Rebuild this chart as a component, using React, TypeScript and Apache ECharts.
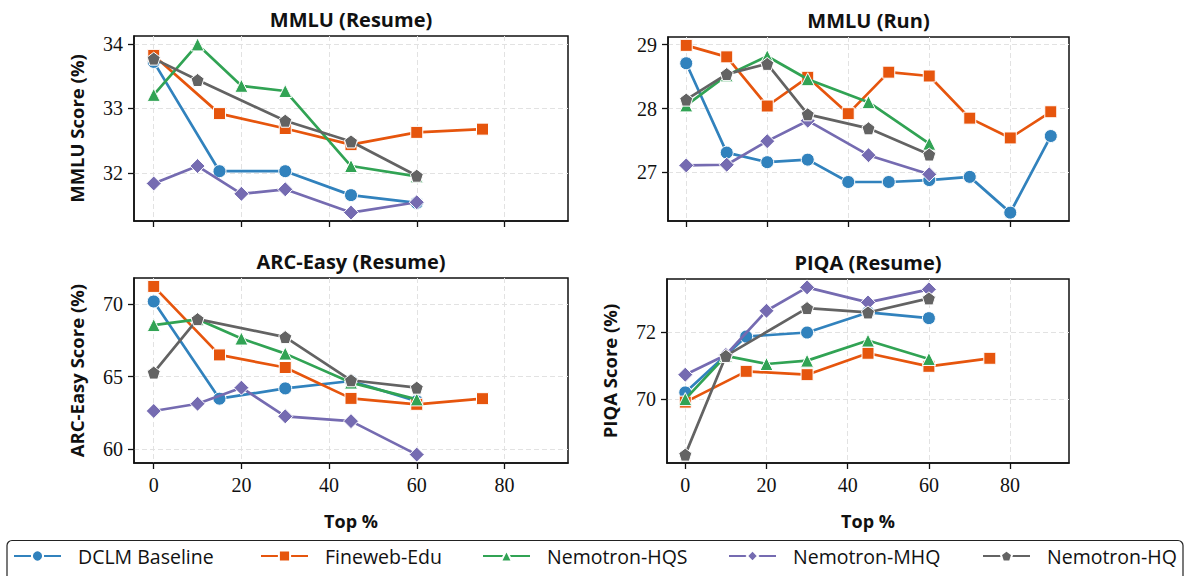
import React, { useEffect, useRef } from "react";
import * as echarts from "echarts";

// ---------- data ----------
const seriesNames = ["DCLM Baseline", "Fineweb-Edu", "Nemotron-HQS", "Nemotron-MHQ", "Nemotron-HQ"];
const colors = ["#3182bd", "#e6550d", "#31a354", "#756bb1", "#636363"];

const xTickValues = [0, 20, 40, 60, 80];

const resumeDclmX = [0, 15, 30, 45, 60];
const resumeFinewebX = [0, 15, 30, 45, 60, 75];
const resumeHqsX = [0, 10, 20, 30, 45, 60];
const resumeMhqX = [0, 10, 20, 30, 45, 60];
const resumeHqX = [0, 10, 30, 45, 60];

const runDclmX = [0, 10, 20, 30, 40, 50, 60, 70, 80, 90];
const runFinewebX = [0, 10, 20, 30, 40, 50, 60, 70, 80, 90];
const runHqsX = [0, 10, 20, 30, 45, 60];
const runMhqX = [0, 10, 20, 30, 45, 60];
const runHqX = [0, 10, 20, 30, 45, 60];

// MMLU (Resume)
const mmluResumeDclm = [33.72, 32.03, 32.03, 31.66, 31.54];
const mmluResumeFineweb = [33.82, 32.92, 32.69, 32.44, 32.63, 32.68];
const mmluResumeHqs = [33.21, 33.99, 33.35, 33.27, 32.11, 31.95];
const mmluResumeMhq = [31.84, 32.11, 31.68, 31.75, 31.39, 31.55];
const mmluResumeHq = [33.77, 33.44, 32.81, 32.49, 31.96];
const mmluResumeTicks = [32, 33, 34];

// MMLU (Run)
const mmluRunDclm = [28.71, 27.31, 27.16, 27.2, 26.85, 26.85, 26.88, 26.93, 26.37, 27.57];
const mmluRunFineweb = [28.99, 28.81, 28.04, 28.49, 27.92, 28.57, 28.51, 27.85, 27.54, 27.95];
const mmluRunHqs = [28.05, 28.52, 28.82, 28.46, 28.1, 27.45];
const mmluRunMhq = [27.11, 27.12, 27.49, 27.81, 27.27, 26.97];
const mmluRunHq = [28.14, 28.54, 28.7, 27.91, 27.69, 27.28];
const mmluRunTicks = [27, 28, 29];

// ARC-Easy (Resume)
const arcDclm = [70.18, 63.47, 64.18, 64.69, 63.3];
const arcFineweb = [71.22, 66.49, 65.62, 63.49, 63.08, 63.47];
const arcHqs = [68.55, 68.95, 67.62, 66.58, 64.58, 63.42];
const arcMhq = [62.62, 63.12, 64.23, 62.25, 61.92, 59.61];
const arcHq = [65.27, 68.96, 67.72, 64.74, 64.23];
const arcTicks = [60, 65, 70];

// PIQA (Resume)
const piqaDclm = [70.19, 71.86, 71.98, 72.58, 72.41];
const piqaFineweb = [69.9, 70.82, 70.72, 71.36, 70.97, 71.21];
const piqaHqs = [69.99, 71.28, 71.04, 71.14, 71.74, 71.19];
const piqaMhq = [70.72, 71.31, 72.63, 73.33, 72.88, 73.27];
const piqaHq = [68.33, 71.28, 72.71, 72.58, 73.0];
const piqaTicks = [70, 72];

// ---------- styling ----------
const pentagon = "path://M0,-1L0.951,-0.309L0.588,0.809L-0.588,0.809L-0.951,-0.309Z";
const symbols = ["circle", "rect", "triangle", "diamond", pentagon];
const symbolSizes = [13, 12, 13, 15, 13];
const legendLefts = [13, 260, 482, 728, 982];

const SANS = "'Open Sans', 'Noto Sans', sans-serif";
const SERIF = "'Liberation Serif', 'DejaVu Serif', serif";

const zip = (xs: number[], ys: number[]) => xs.map((x, i) => [x, ys[i]]);

const panels = [
  {
    title: "MMLU (Resume)",
    yName: "MMLU Score (%)",
    ticks: mmluResumeTicks,
    showXLabels: false,
    grid: { left: 134, top: 36, width: 434, height: 185 },
    xs: [resumeDclmX, resumeFinewebX, resumeHqsX, resumeMhqX, resumeHqX],
    ys: [mmluResumeDclm, mmluResumeFineweb, mmluResumeHqs, mmluResumeMhq, mmluResumeHq],
  },
  {
    title: "MMLU (Run)",
    yName: "",
    ticks: mmluRunTicks,
    showXLabels: false,
    grid: { left: 668, top: 37, width: 401, height: 184 },
    xs: [runDclmX, runFinewebX, runHqsX, runMhqX, runHqX],
    ys: [mmluRunDclm, mmluRunFineweb, mmluRunHqs, mmluRunMhq, mmluRunHq],
  },
  {
    title: "ARC-Easy (Resume)",
    yName: "ARC-Easy Score (%)",
    ticks: arcTicks,
    showXLabels: true,
    grid: { left: 134, top: 278, width: 434, height: 185 },
    xs: [resumeDclmX, resumeFinewebX, resumeHqsX, resumeMhqX, resumeHqX],
    ys: [arcDclm, arcFineweb, arcHqs, arcMhq, arcHq],
  },
  {
    title: "PIQA (Resume)",
    yName: "PIQA Score (%)",
    ticks: piqaTicks,
    showXLabels: true,
    grid: { left: 667, top: 279, width: 402, height: 184 },
    xs: [resumeDclmX, resumeFinewebX, resumeHqsX, resumeMhqX, resumeHqX],
    ys: [piqaDclm, piqaFineweb, piqaHqs, piqaMhq, piqaHq],
  },
];

function buildOption() {
  const grids: any[] = [];
  const xAxes: any[] = [];
  const yAxes: any[] = [];
  const series: any[] = [];
  const graphics: any[] = [];

  panels.forEach((p, pi) => {
    grids.push({
      ...p.grid,
      show: true,
      borderColor: "#111",
      borderWidth: 1.5,
      backgroundColor: "transparent",
      containLabel: false,
    });
    const all = p.ys.flat();
    const lo = Math.min(...all);
    const hi = Math.max(...all);
    const pad = (hi - lo) * 0.05;

    xAxes.push({
      type: "value",
      gridIndex: pi,
      min: -4.5,
      max: 94.5,
      axisLine: { show: true, onZero: false, lineStyle: { color: "#111", width: 1.5 } },
      axisTick: { show: true, length: 6, customValues: xTickValues, lineStyle: { color: "#111", width: 1.3 } },
      axisLabel: {
        show: p.showXLabels,
        customValues: xTickValues,
        fontFamily: SERIF,
        fontSize: 20,
        color: "#111",
        margin: 12,
      },
      splitLine: { show: true, lineStyle: { color: "#e2e2e2", type: [5, 3], width: 1 } },
      name: p.showXLabels ? "Top %" : "",
      nameLocation: "middle",
      nameGap: 49,
      nameTextStyle: { fontFamily: SANS, fontWeight: "bold", fontSize: 18, color: "#111" },
    });
    yAxes.push({
      type: "value",
      gridIndex: pi,
      min: lo - pad,
      max: hi + pad,
      axisLine: { show: true, onZero: false, lineStyle: { color: "#111", width: 1.5 } },
      axisTick: { show: true, length: 6, customValues: p.ticks, lineStyle: { color: "#111", width: 1.3 } },
      axisLabel: {
        customValues: p.ticks,
        fontFamily: SERIF,
        fontSize: 20,
        color: "#111",
        margin: 11,
        formatter: (v: number) => String(Math.round(v)),
      },
      splitLine: { show: true, lineStyle: { color: "#e2e2e2", type: [5, 3], width: 1 } },
      name: p.yName,
      nameLocation: "middle",
      nameGap: 48,
      nameTextStyle: { fontFamily: SANS, fontWeight: "bold", fontSize: 18.5, color: "#111" },
    });

    seriesNames.forEach((name, si) => {
      series.push({
        type: "line",
        name,
        xAxisIndex: pi,
        yAxisIndex: pi,
        data: zip(p.xs[si], p.ys[si]),
        symbol: symbols[si],
        symbolSize: symbolSizes[si],
        showAllSymbol: true,
        lineStyle: { color: colors[si], width: 2.7 },
        itemStyle: { color: colors[si], borderColor: "#fff", borderWidth: 1 },
        z: 2 + si,
        emphasis: { disabled: true },
      });
    });

    const cx = p.grid.left + p.grid.width / 2;
    graphics.push({
      type: "text",
      x: cx,
      y: p.grid.top - 17,
      style: {
        text: p.title,
        font: `bold 20px ${SANS}`,
        fill: "#111",
        align: "center",
        verticalAlign: "middle",
        textAlign: "center",
        textVerticalAlign: "middle",
      },
    });
  });

  graphics.push({
    type: "rect",
    z: 0,
    shape: { x: 7, y: 540.5, width: 1176, height: 60, r: 5 },
    style: { fill: "#fff", stroke: "#222", lineWidth: 1.2 },
  });

  const legends = seriesNames.map((name, i) => ({
    data: [name],
    left: legendLefts[i],
    top: 546,
    padding: 0,
    itemWidth: 47,
    itemHeight: 14,
    z: 10,
    selectedMode: false,
    textStyle: { fontFamily: SANS, fontSize: 19.5, color: "#111", padding: [0, 0, 0, 12] },
  }));

  return {
    animation: false,
    backgroundColor: "#fff",
    grid: grids,
    xAxis: xAxes,
    yAxis: yAxes,
    series,
    graphic: graphics,
    legend: legends,
  };
}

export default function App() {
  const ref = useRef<HTMLDivElement>(null);
  useEffect(() => {
    if (!ref.current) return;
    const chart = echarts.init(ref.current, undefined, { renderer: "svg" });
    chart.setOption(buildOption() as any);
    return () => chart.dispose();
  }, []);
  return (
    <div
      ref={ref}
      style={{ position: "fixed", left: 0, top: 0, width: 1184, height: 576, background: "#fff" }}
    />
  );
}
